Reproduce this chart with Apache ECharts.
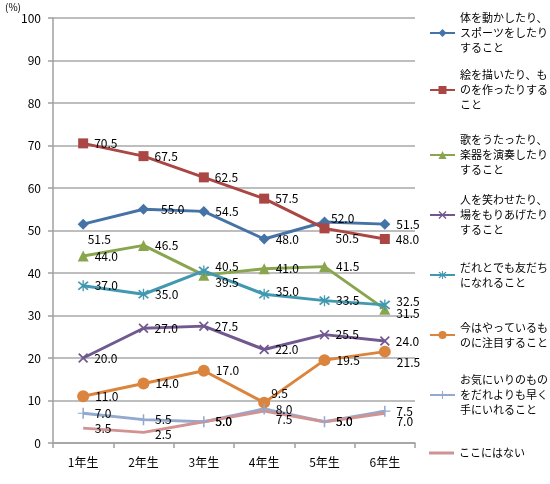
<!DOCTYPE html>
<html><head><meta charset="utf-8">
<script src="https://cdn.jsdelivr.net/npm/echarts@6/dist/echarts.min.js"></script>
<style>html,body{margin:0;padding:0;background:#fff}#c{width:550px;height:484px}</style>
</head><body><div id="c"></div>
<script>
var categories = ['1年生','2年生','3年生','4年生','5年生','6年生'];
var yTicks = [0,10,20,30,40,50,60,70,80,90,100];
var names = [
  '体を動かしたり、スポーツをしたりすること',
  '絵を描いたり、ものを作ったりすること',
  '歌をうたったり、楽器を演奏したりすること',
  '人を笑わせたり、場をもりあげたりすること',
  'だれとでも友だちになれること',
  '今はやっているものに注目すること',
  'お気にいりのものをだれよりも早く手にいれること',
  'ここにはない'
];
var sports   = [51.5, 55.0, 54.5, 48.0, 52.0, 51.5];
var drawing  = [70.5, 67.5, 62.5, 57.5, 50.5, 48.0];
var singing  = [44.0, 46.5, 39.5, 41.0, 41.5, 31.5];
var funny    = [20.0, 27.0, 27.5, 22.0, 25.5, 24.0];
var friends  = [37.0, 35.0, 40.5, 35.0, 33.5, 32.5];
var trendy   = [11.0, 14.0, 17.0, 9.5, 19.5, 21.5];
var favorite = [7.0, 5.5, 5.0, 8.0, 5.0, 7.5];
var none     = [3.5, 2.5, 5.0, 7.5, 5.0, 7.0];
var seriesValues = [sports, drawing, singing, funny, friends, trendy, favorite, none];

// styling
var colors = ['#4572A7','#AA4643','#89A54E','#71588F','#4198AF','#DB843D','#93A9CF','#D19392'];
var X = 'path://M0,1.2 L1.2,0 L5,3.8 L8.8,0 L10,1.2 L6.2,5 L10,8.8 L8.8,10 L5,6.2 L1.2,10 L0,8.8 L3.8,5 Z';
var STAR = 'path://M0,1.2 L1.2,0 L5,3.8 L8.8,0 L10,1.2 L6.2,5 L10,8.8 L8.8,10 L5,6.2 L1.2,10 L0,8.8 L3.8,5 Z M4.4,-1 L5.6,-1 L5.6,11 L4.4,11 Z';
var PLUS = 'path://M4.3,0 L5.7,0 L5.7,4.5 L10,4.5 L10,5.5 L5.7,5.5 L5.7,10 L4.3,10 L4.3,5.5 L0,5.5 L0,4.5 L4.3,4.5 Z';
var LINEICON = 'path://M0,0 L25,0 L25,3 L0,3 Z';
var symbols = ['diamond','rect','triangle',X,STAR,'circle',PLUS,'circle'];
var symbolSizes = [11,10,11,10,11,12,11,0.1];
var labelDistances = [6,6,6,6,6,6,6,11.5];
var labelShift = {0:{0:[-7,15],1:[6,0],4:[-5,-4]},1:{4:[0,10]},2:{2:[0,7],5:[0,4]},4:{2:[0,-4],3:[0,-3],5:[0,-3]},5:{3:[-5,-9],5:[0,11]},7:{1:[0,2],3:[0,8],5:[0,8]}};
var legendY = [33, 90, 155, 215, 275, 335, 395, 453];
var LH = 15;

function wrap(s){ return s.match(/.{1,8}/g).join('\n'); }

var font = '"Noto Sans CJK JP", "Noto Sans", sans-serif';
var series = seriesValues.map(function(vals, i){
  var shifts = labelShift[i] || {};
  return {
    name: names[i],
    type: 'line',
    data: vals,
    symbol: symbols[i],
    symbolSize: symbolSizes[i],
    showSymbol: true,
    lineStyle: {width: 3, color: colors[i]},
    itemStyle: {color: colors[i]},
    label: {show: true, position: 'right', distance: labelDistances[i], color: '#000', fontSize: 12, fontFamily: font,
      formatter: function(p){ return p.value.toFixed(1); }},
    labelLayout: function(p){
      var s = shifts[p.dataIndex];
      return s ? {dx: s[0], dy: s[1]} : {};
    },
    emphasis: {disabled: true},
    animation: false
  };
});

var legends = names.map(function(n, i){
  var lines = wrap(n).split('\n').length;
  var d = {name: n};
  if (i === 7) d.icon = LINEICON;
  return {
    data: [d], orient: 'vertical', left: 429, top: legendY[i] - (2*lines-1)*LH/2,
    padding: 0, itemWidth: 25, itemHeight: 10, selectedMode: false,
    formatter: wrap,
    textStyle: {fontSize: 11, lineHeight: LH, color: '#000', fontFamily: font, padding: [(lines-1)*LH,0,0,0]}
  };
});

var chart = echarts.init(document.getElementById('c'));
chart.setOption({
  backgroundColor: '#fff',
  color: colors,
  animation: false,
  legend: legends,
  grid: {left: 53, right: 135, top: 18, bottom: 41, containLabel: false},
  xAxis: {
    type: 'category', data: categories, boundaryGap: true,
    axisLine: {lineStyle: {color: '#a0a0a0', width: 1.5}},
    axisTick: {show: true, length: 5, lineStyle: {color: '#a0a0a0', width: 1.5}},
    axisLabel: {color: '#000', fontSize: 12, fontFamily: font, margin: 13}
  },
  yAxis: {
    type: 'value', min: yTicks[0], max: yTicks[yTicks.length-1], interval: yTicks[1]-yTicks[0],
    name: '(%)', nameLocation: 'end', nameGap: 2,
    nameTextStyle: {fontSize: 10, color: '#000', fontFamily: font, align: 'right', verticalAlign: 'middle', padding: [0, 32, 0, 0]},
    axisLine: {show: true, lineStyle: {color: '#a0a0a0', width: 1.5}},
    axisTick: {show: true, length: 5, lineStyle: {color: '#a0a0a0', width: 1.5}},
    axisLabel: {color: '#000', fontSize: 12, fontFamily: font, margin: 12},
    splitLine: {lineStyle: {color: '#a8a8a8', width: 1.5}}
  },
  series: series
});
</script></body></html>
